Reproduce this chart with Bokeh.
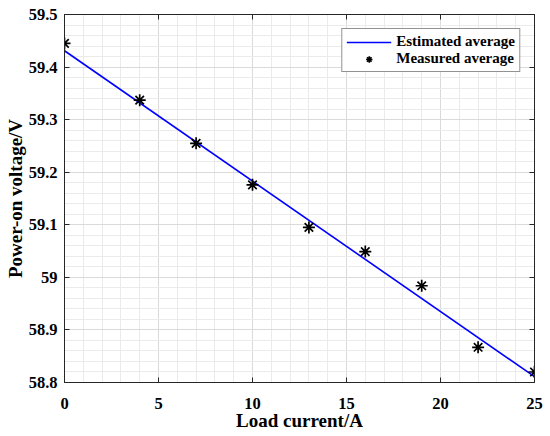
from bokeh.plotting import figure
from bokeh.models import (Range1d, LinearAxis, SingleIntervalTicker, Legend, LegendItem,
                          CustomJSTickFormatter)
from bokeh.embed import file_html
from bokeh.resources import INLINE

# Data
current = [0, 4, 7, 10, 13, 16, 19, 22, 25]
measured = [59.445, 59.337, 59.255, 59.176, 59.095, 59.049, 58.984, 58.867, 58.820]
est_current = [0, 25]
est_voltage = [59.431, 58.811]

x_label = "Load current/A"
y_label = "Power-on voltage/V"
legend_labels = ["Estimated average", "Measured average"]

FONT = "Liberation Serif"
AX = "#262626"

p = figure(frame_width=470, frame_height=368, x_range=Range1d(0, 25), y_range=Range1d(58.8, 59.5),
           output_backend="svg", toolbar_location=None,
           min_border_left=64, min_border_right=16, min_border_top=14, min_border_bottom=54)
p.background_fill_color = "white"
p.border_fill_color = "white"
p.outline_line_color = AX
p.outline_line_width = 1

xt = SingleIntervalTicker(interval=5, num_minor_ticks=5)
yt = SingleIntervalTicker(interval=0.1, num_minor_ticks=5)
yfmt = CustomJSTickFormatter(code="return tick.toFixed(1).replace(/\\.0$/, '');")
blank = CustomJSTickFormatter(code="return '';")

def style_axis(ax, show_labels=True):
    ax.axis_line_color = AX
    ax.major_tick_line_color = AX
    ax.major_tick_in = 5
    ax.major_tick_out = 0
    ax.minor_tick_in = 0
    ax.minor_tick_out = 0
    ax.major_label_text_font = FONT
    ax.major_label_text_font_style = "bold"
    ax.major_label_text_color = "black"
    ax.major_label_text_font_size = "16.5px"
    if not show_labels:
        ax.formatter = blank
        ax.major_label_standoff = 0

p.xaxis.ticker = xt
p.yaxis.ticker = yt
p.yaxis.formatter = yfmt
style_axis(p.xaxis[0])
style_axis(p.yaxis[0])
p.xaxis.major_label_standoff = 15
p.yaxis.major_label_standoff = 7
p.xaxis.axis_label = x_label
p.yaxis.axis_label = y_label
for ax in (p.xaxis[0], p.yaxis[0]):
    ax.axis_label_text_font = FONT
    ax.axis_label_text_font_style = "bold"
    ax.axis_label_text_font_size = "19px"
    ax.axis_label_text_color = "black"
p.xaxis.axis_label_standoff = -2
p.yaxis.axis_label_standoff = 0

top = LinearAxis(ticker=xt, axis_label=None)
right = LinearAxis(ticker=yt, axis_label=None)
style_axis(top, False)
style_axis(right, False)
p.add_layout(top, "above")
p.add_layout(right, "right")

p.xgrid.ticker = xt
p.ygrid.ticker = yt
for g in (p.xgrid[0], p.ygrid[0]):
    g.grid_line_color = "#dadada"
    g.grid_line_width = 1
    g.minor_grid_line_color = "#ebebeb"
    g.minor_grid_line_width = 1

r1 = p.line(est_current, est_voltage, line_color="#0000ff", line_width=1.6)
r2 = p.scatter(current, measured, marker="asterisk", size=12, line_color="black", line_width=1.7)

legend = Legend(items=[LegendItem(label=legend_labels[0], renderers=[r1]),
                       LegendItem(label=legend_labels[1], renderers=[r2])],
                location="top_right")
legend.margin = 14
legend.padding = 4
legend.spacing = 0
legend.glyph_width = 45
legend.glyph_height = 16
legend.label_height = 16
legend.label_standoff = 5
legend.label_text_font = FONT
legend.label_text_font_style = "bold"
legend.label_text_font_size = "15px"
legend.label_text_color = "black"
legend.border_line_color = AX
legend.border_line_width = 1
legend.background_fill_color = "white"
legend.background_fill_alpha = 1
p.add_layout(legend)

open("out.html", "w").write(file_html(p, INLINE))
